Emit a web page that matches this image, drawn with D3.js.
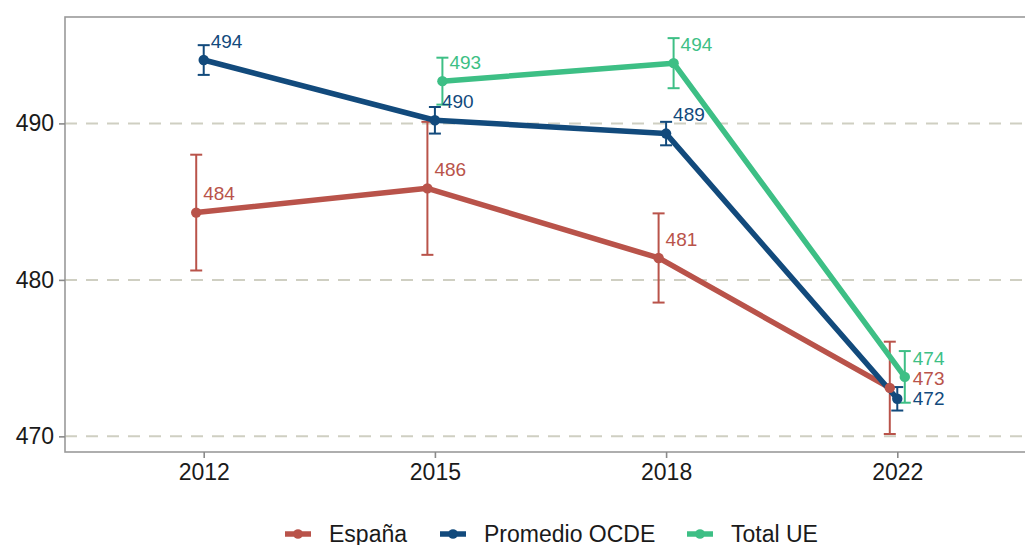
<!DOCTYPE html>
<html>
<head>
<meta charset="utf-8">
<script src="https://cdn.jsdelivr.net/npm/d3@7"></script>
<style>
  body { margin: 0; background: #fff; }
  svg { font-family: "Liberation Sans", Arial, sans-serif; display: block; }
</style>
</head>
<body>
<div id="chart"></div>
<script>
// data
var years = ["2012", "2015", "2018", "2022"];
var seriesNames = ["España", "Promedio OCDE", "Total UE"];
var seriesColors = ["#B9534A", "#124A7C", "#3DBF85"];
var espana = [484.3, 485.85, 481.4, 473.1];
var espanaErr = [3.7, 4.25, 2.85, 2.95];
var ocde = [494.05, 490.2, 489.35, 472.4];
var ocdeErr = [0.95, 0.85, 0.75, 0.75];
var ue = [null, 492.7, 493.85, 473.8];
var ueErr = [null, 1.5, 1.6, 1.65];
var labelEsp = ["484", "486", "481", "473"];
var labelOcde = ["494", "490", "489", "472"];
var labelUe = [null, "493", "494", "474"];
var yTicks = [470, 480, 490];

var series = [
  {name: seriesNames[0], color: seriesColors[0], vals: espana, err: espanaErr, lab: labelEsp, dodge: -1},
  {name: seriesNames[1], color: seriesColors[1], vals: ocde, err: ocdeErr, lab: labelOcde, dodge: 0},
  {name: seriesNames[2], color: seriesColors[2], vals: ue, err: ueErr, lab: labelUe, dodge: 1}
];

var W = 1025, H = 545;
var plot = {left: 65, top: 17, right: 1036, bottom: 452};

var svg = d3.select("#chart").append("svg")
    .attr("width", W)
    .attr("height", H);

var x = d3.scalePoint()
    .domain(years)
    .range([plot.left, plot.right])
    .padding(0.6);

var y = d3.scaleLinear()
    .domain([469, 496.8])
    .range([plot.bottom, plot.top]);

var dodgeW = 7.5;

// gridlines
svg.append("g")
  .selectAll("line")
  .data(yTicks)
  .enter()
  .append("line")
    .attr("x1", plot.left)
    .attr("x2", plot.right)
    .attr("y1", d => y(d))
    .attr("y2", d => y(d))
    .style("stroke", "#cfcfc2")
    .style("stroke-width", 2)
    .style("stroke-dasharray", "12,9");

// panel border
svg.append("rect")
    .attr("x", plot.left)
    .attr("y", plot.top)
    .attr("width", plot.right - plot.left)
    .attr("height", plot.bottom - plot.top)
    .style("fill", "none")
    .style("stroke", "#9a9a9a")
    .style("stroke-width", 1.6);

// axes
var yAxis = svg.append("g")
    .attr("transform", "translate(" + plot.left + ",0)")
    .call(d3.axisLeft(y).tickValues(yTicks).tickSize(6).tickPadding(5));
var xAxis = svg.append("g")
    .attr("transform", "translate(0," + plot.bottom + ")")
    .call(d3.axisBottom(x).tickSize(6).tickPadding(6));
[yAxis, xAxis].forEach(function (a) {
  a.select(".domain").remove();
  a.selectAll(".tick line").style("stroke", "#8a8a8a").style("stroke-width", 1.6);
  a.selectAll(".tick text").style("font-size", "23px").style("fill", "#1a1a1a")
    .style("font-family", "Liberation Sans, Arial, sans-serif");
});

function px(s, i) { return x(years[i]) + s.dodge * dodgeW; }

var line = d3.line()
    .defined(d => d.v != null)
    .x(d => d.x)
    .y(d => y(d.v));

var labels = [];
var gBars = svg.append("g"), gLines = svg.append("g"), gPts = svg.append("g");

series.forEach(function (s) {
  var pts = s.vals.map(function (v, i) {
    return {v: v, e: s.err[i], x: px(s, i), i: i, lab: s.lab[i]};
  });
  var eb = pts.filter(d => d.v != null);

  // error bars
  var g = gBars.append("g");
  g.selectAll(".eb").data(eb).enter().append("line")
      .attr("x1", d => d.x).attr("x2", d => d.x)
      .attr("y1", d => y(d.v + d.e)).attr("y2", d => y(d.v - d.e))
      .style("stroke", s.color).style("stroke-width", 2);
  [1, -1].forEach(function (sg) {
    g.selectAll(".cap" + sg).data(eb).enter().append("line")
        .attr("x1", d => d.x - 6).attr("x2", d => d.x + 6)
        .attr("y1", d => y(d.v + sg * d.e)).attr("y2", d => y(d.v + sg * d.e))
        .style("stroke", s.color).style("stroke-width", 2);
  });

  gLines.append("path")
      .datum(pts)
      .attr("d", line)
      .style("fill", "none")
      .style("stroke", s.color)
      .style("stroke-width", 5.5)
      .style("stroke-linejoin", "round");

  gPts.append("g").selectAll("circle").data(eb).enter().append("circle")
      .attr("cx", d => d.x)
      .attr("cy", d => y(d.v))
      .attr("r", 5.2)
      .style("fill", s.color);

  eb.forEach(function (d) {
    labels.push({text: d.lab, color: s.color, i: d.i, x: d.x + 7, y: y(d.v) - 19});
  });
});

// simple repel for labels sitting in the same year
years.forEach(function (yr, i) {
  var grp = labels.filter(l => l.i === i).sort((a, b) => a.y - b.y);
  var crowded = false;
  for (var k = 1; k < grp.length; k++) {
    if (grp[k].y - grp[k - 1].y < 20) crowded = true;
  }
  if (!crowded) return;
  var maxX = d3.max(grp, l => l.x);
  grp.forEach(function (l, k) {
    l.x = maxX + 1;
    if (k > 0 && l.y - grp[k - 1].y < 20) l.y = grp[k - 1].y + 20;
  });
});

svg.append("g").selectAll("text").data(labels).enter().append("text")
    .attr("x", d => d.x)
    .attr("y", d => d.y)
    .attr("dy", "0.35em")
    .style("font-size", "19px")
    .style("fill", d => d.color)
    .text(d => d.text);

// legend
var legX = [285, 440, 687];
var leg = svg.append("g");
series.forEach(function (s, i) {
  var g = leg.append("g").attr("transform", "translate(" + legX[i] + ",534)");
  g.append("line").attr("x1", 0).attr("x2", 26).attr("y1", 0).attr("y2", 0)
      .style("stroke", s.color).style("stroke-width", 5.5);
  g.append("circle").attr("cx", 13).attr("cy", 0).attr("r", 4.8).style("fill", s.color);
  g.append("text").attr("x", 44).attr("y", 7.5)
      .style("font-size", "23px").style("fill", "#1a1a1a")
      .text(s.name);
});
</script>
</body>
</html>
